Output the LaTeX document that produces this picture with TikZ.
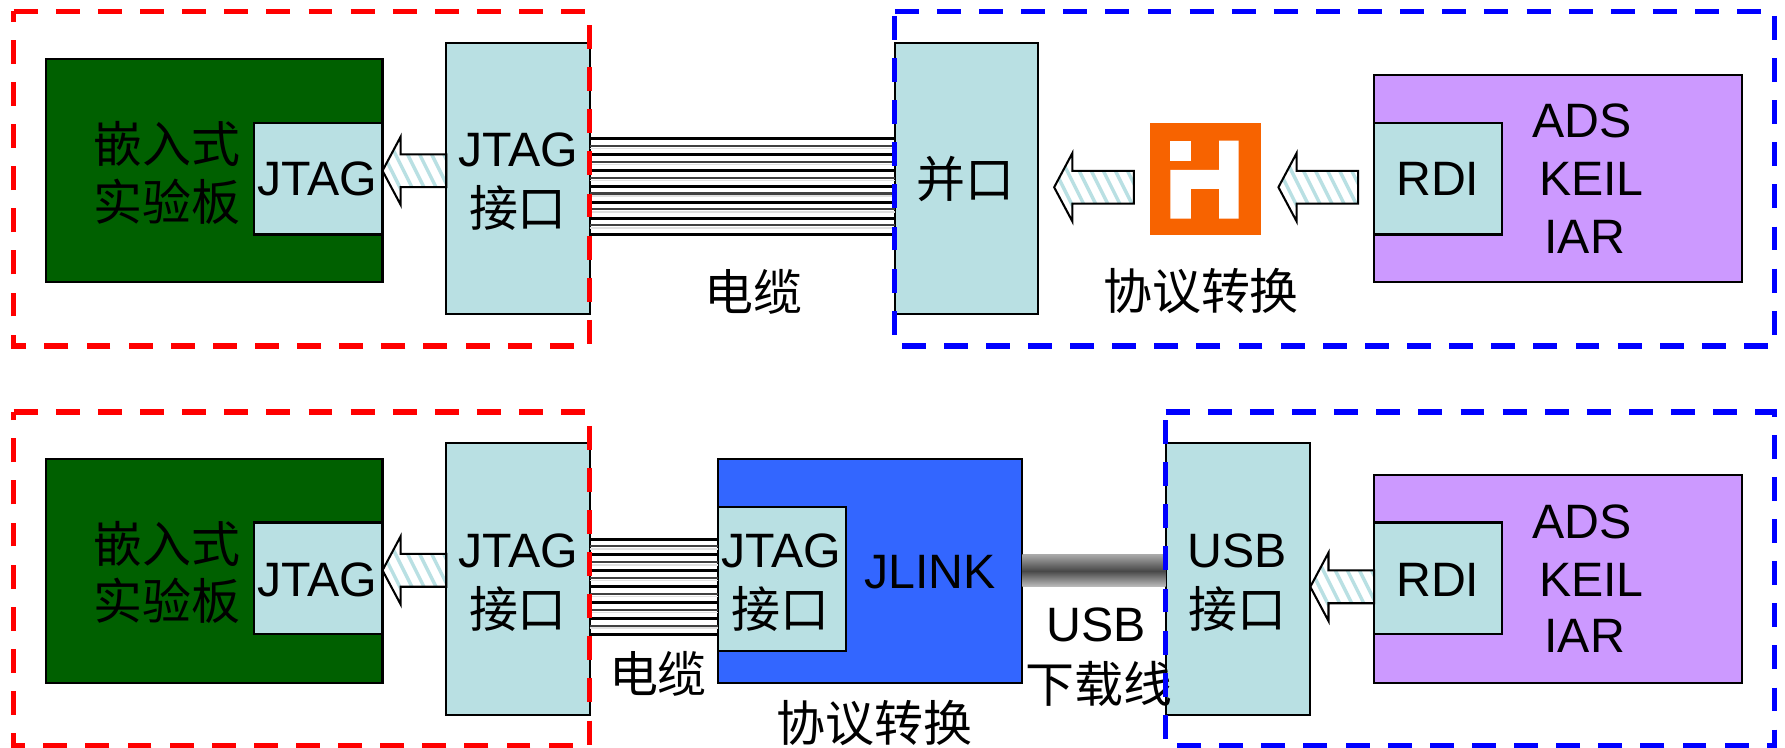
\documentclass[tikz,border=0pt]{standalone}
\usepackage{fontspec}
\setmainfont{Liberation Sans}
\newfontfamily\cjk{Noto Sans CJK SC}
\usetikzlibrary{calc}
\definecolor{portblue}{HTML}{B9E0E3}
\definecolor{boardgreen}{HTML}{006000}
\definecolor{softpurple}{HTML}{CC99FF}
\definecolor{jlinkblue}{HTML}{3366FF}
\definecolor{logoorange}{HTML}{F76300}
\tikzset{
  boxbase/.style={draw=black,line width=0.9pt,outer sep=0pt,inner sep=0pt},
  port/.style={boxbase,fill=portblue},
  board/.style={boxbase,fill=boardgreen},
  host/.style={boxbase,fill=softpurple},
  jlk/.style={boxbase,fill=jlinkblue},
  logo/.style={fill=logoorange,outer sep=0pt,inner sep=0pt},
  lat/.style={font=\fontsize{21.2}{21.2}\selectfont,inner sep=0pt,text=black},
  han/.style={font=\cjk\fontsize{21.5}{21.5}\selectfont,inner sep=0pt,text=black},
  reddash/.style={draw=red,line width=2.3pt,dash pattern=on 10.5pt off 8pt},
  bluedash/.style={draw=blue,line width=2.3pt,dash pattern=on 10.5pt off 8pt},
  wire/.style={draw=black,line width=1.3pt},
  thinwire/.style={draw=black!75,line width=0.9pt},
  halo/.style={draw=black!12,line width=0.8pt},
  harrow/.style={draw=black,line width=0.9pt},
}
% name, style, x1, y1, x2, y2 in reference units
\newcommand{\bx}[6]{\node[#2,minimum width={((#5)-(#3))*0.5pt},minimum height={((#6)-(#4))*0.5pt}] (#1) at ({((#3)+(#5))/2},{((#4)+(#6))/2}) {};}
% hatched arrow: tip node anchor, tail node anchor, y, tip gap, tail gap
\newcommand{\hatched}[5]{%
  \coordinate (tipc) at ([xshift=#4*0.5pt]#1 |- 0,#3);
  \coordinate (endc) at ([xshift=-#5*0.5pt]#2 |- 0,#3);
  \def\arrowshape{(tipc) -- ([xshift=8pt,yshift=15pt]tipc) -- ([xshift=8pt,yshift=7.2pt]tipc) -- ([yshift=7.2pt]endc) -- ([yshift=-7.2pt]endc) -- ([xshift=8pt,yshift=-7.2pt]tipc) -- ([xshift=8pt,yshift=-15pt]tipc) -- cycle}
  \fill[white] \arrowshape;
  \begin{scope}
    \clip \arrowshape;
    \foreach \k in {-2,...,10}
      \draw[portblue,line width=1.5pt] ([xshift={\k*5.3pt-4pt},yshift=16pt]tipc) -- ([xshift={\k*5.3pt+12pt},yshift=-16pt]tipc);
  \end{scope}
  \draw[harrow] \arrowshape;
}
\begin{document}
\begin{tikzpicture}[x=0.5pt,y=-0.5pt]
\useasboundingbox (0,0) rectangle (1568,657);
\fill[white] (0,0) rectangle (1568,657);

% ---------- top row
\bx{boardA}{board}{40}{52}{336}{248}
\bx{jtagA}{port}{223}{108}{336}{206}
\bx{portA}{port}{392}{38}{518}{276}
\bx{par}{port}{786}{38}{912}{276}
\bx{conv}{logo}{1010}{108}{1108}{206}
\bx{hostA}{host}{1207}{66}{1530}{248}
\bx{rdiA}{port}{1207}{108}{1319}{206}
\fill[white] (1028,123.6) rectangle (1046,141);
\fill[white] (1028,149.3) -- (1071,149.3) -- (1071,123.6) -- (1088,123.6) -- (1088,192) -- (1071,192) -- (1071,166) -- (1046,166) -- (1046,192) -- (1028,192) -- cycle;

\foreach \y in {122,136,150,164,178,192,206} \draw[wire] (portA.east |- 0,\y) -- (par.west |- 0,\y);
\foreach \y in {128,142,156,170,184,198} {
  \draw[thinwire] (portA.east |- 0,\y) -- (par.west |- 0,\y);
  \draw[halo] (portA.east |- 0,\y+2.5) -- (par.west |- 0,\y+2.5);
}
\hatched{jtagA.east}{portA.west}{150}{0}{0}
\hatched{par.east}{conv.west}{164.5}{14}{14}
\hatched{conv.east}{rdiA.west}{164.5}{15}{14}

\node[han] (t1) at (147,126) {嵌入式};
\node[han] (t2) at (147,177) {实验板};
\node[lat] (t3) at (279,157) {JTAG};
\node[lat] (t4) at (455,132) {JTAG};
\node[han] (t5) at (455,183) {接口};
\node[han] (t6) at (662,256) {电缆};
\node[han] (t7) at (848,157) {并口};
\node[han] (t8) at (1055,256) {协议转换};
\node[lat] (t9) at (1263,157) {RDI};
\node[lat] (t10) at (1390,106) {ADS};
\node[lat] (t11) at (1398,157) {KEIL};
\node[lat] (t12) at (1392,208) {IAR};

% ---------- bottom row
\bx{boardB}{board}{40}{403}{336}{600}
\bx{jtagB}{port}{223}{459}{336}{557}
\bx{portB}{port}{392}{389}{518}{628}
\bx{jlink}{jlk}{631}{403}{898}{600}
\bx{jtagC}{port}{631}{445}{743}{572}
\bx{usbp}{port}{1024}{389}{1151}{628}
\bx{hostB}{host}{1207}{417}{1530}{600}
\bx{rdiB}{port}{1207}{459}{1319}{557}

\foreach \y in {473.5,487.5,501.5,515.5,529.5,543.5,557.5} \draw[wire] (portB.east |- 0,\y) -- (jtagC.west |- 0,\y);
\foreach \y in {479.5,493.5,507.5,521.5,535.5,549.5} {
  \draw[thinwire] (portB.east |- 0,\y) -- (jtagC.west |- 0,\y);
  \draw[halo] (portB.east |- 0,\y+2.5) -- (jtagC.west |- 0,\y+2.5);
}
\shade[top color=black!35,bottom color=black!25,middle color=black!72] (jlink.east |- 0,487.5) rectangle (usbp.west |- 0,515.5);
\hatched{jtagB.east}{portB.west}{501}{0}{0}
\hatched{usbp.east}{rdiB.west}{515.5}{0}{0}

\node[han] (b1) at (147,478) {嵌入式};
\node[han] (b2) at (147,528) {实验板};
\node[lat] (b3) at (279,509) {JTAG};
\node[lat] (b4) at (455,484) {JTAG};
\node[han] (b5) at (455,535) {接口};
\node[han] (b6) at (578,592) {电缆};
\node[lat] (b7) at (686,484) {JTAG};
\node[han] (b8) at (686,535) {接口};
\node[lat] (b9) at (817,503) {JLINK};
\node[han] (b10) at (768,635) {协议转换};
\node[lat] (b11) at (963,549) {USB};
\node[han] (b12) at (965,601) {下载线};
\node[lat] (b13) at (1087,484) {USB};
\node[han] (b14) at (1087,535) {接口};
\node[lat] (b15) at (1263,509) {RDI};
\node[lat] (b16) at (1390,458) {ADS};
\node[lat] (b17) at (1398,509) {KEIL};
\node[lat] (b18) at (1392,559) {IAR};

% ---------- dashed groups
\draw[reddash] (12,10) -- (518,10) -- (518,304) -- (12,304) -- cycle;
\draw[bluedash] (786,10) -- (1559,10) -- (1559,304) -- (786,304) -- cycle;
\draw[reddash] (12,362) -- (518,362) -- (518,655) -- (12,655) -- cycle;
\draw[bluedash] (1024,362) -- (1559,362) -- (1559,655) -- (1024,655) -- cycle;
\end{tikzpicture}
\end{document}
